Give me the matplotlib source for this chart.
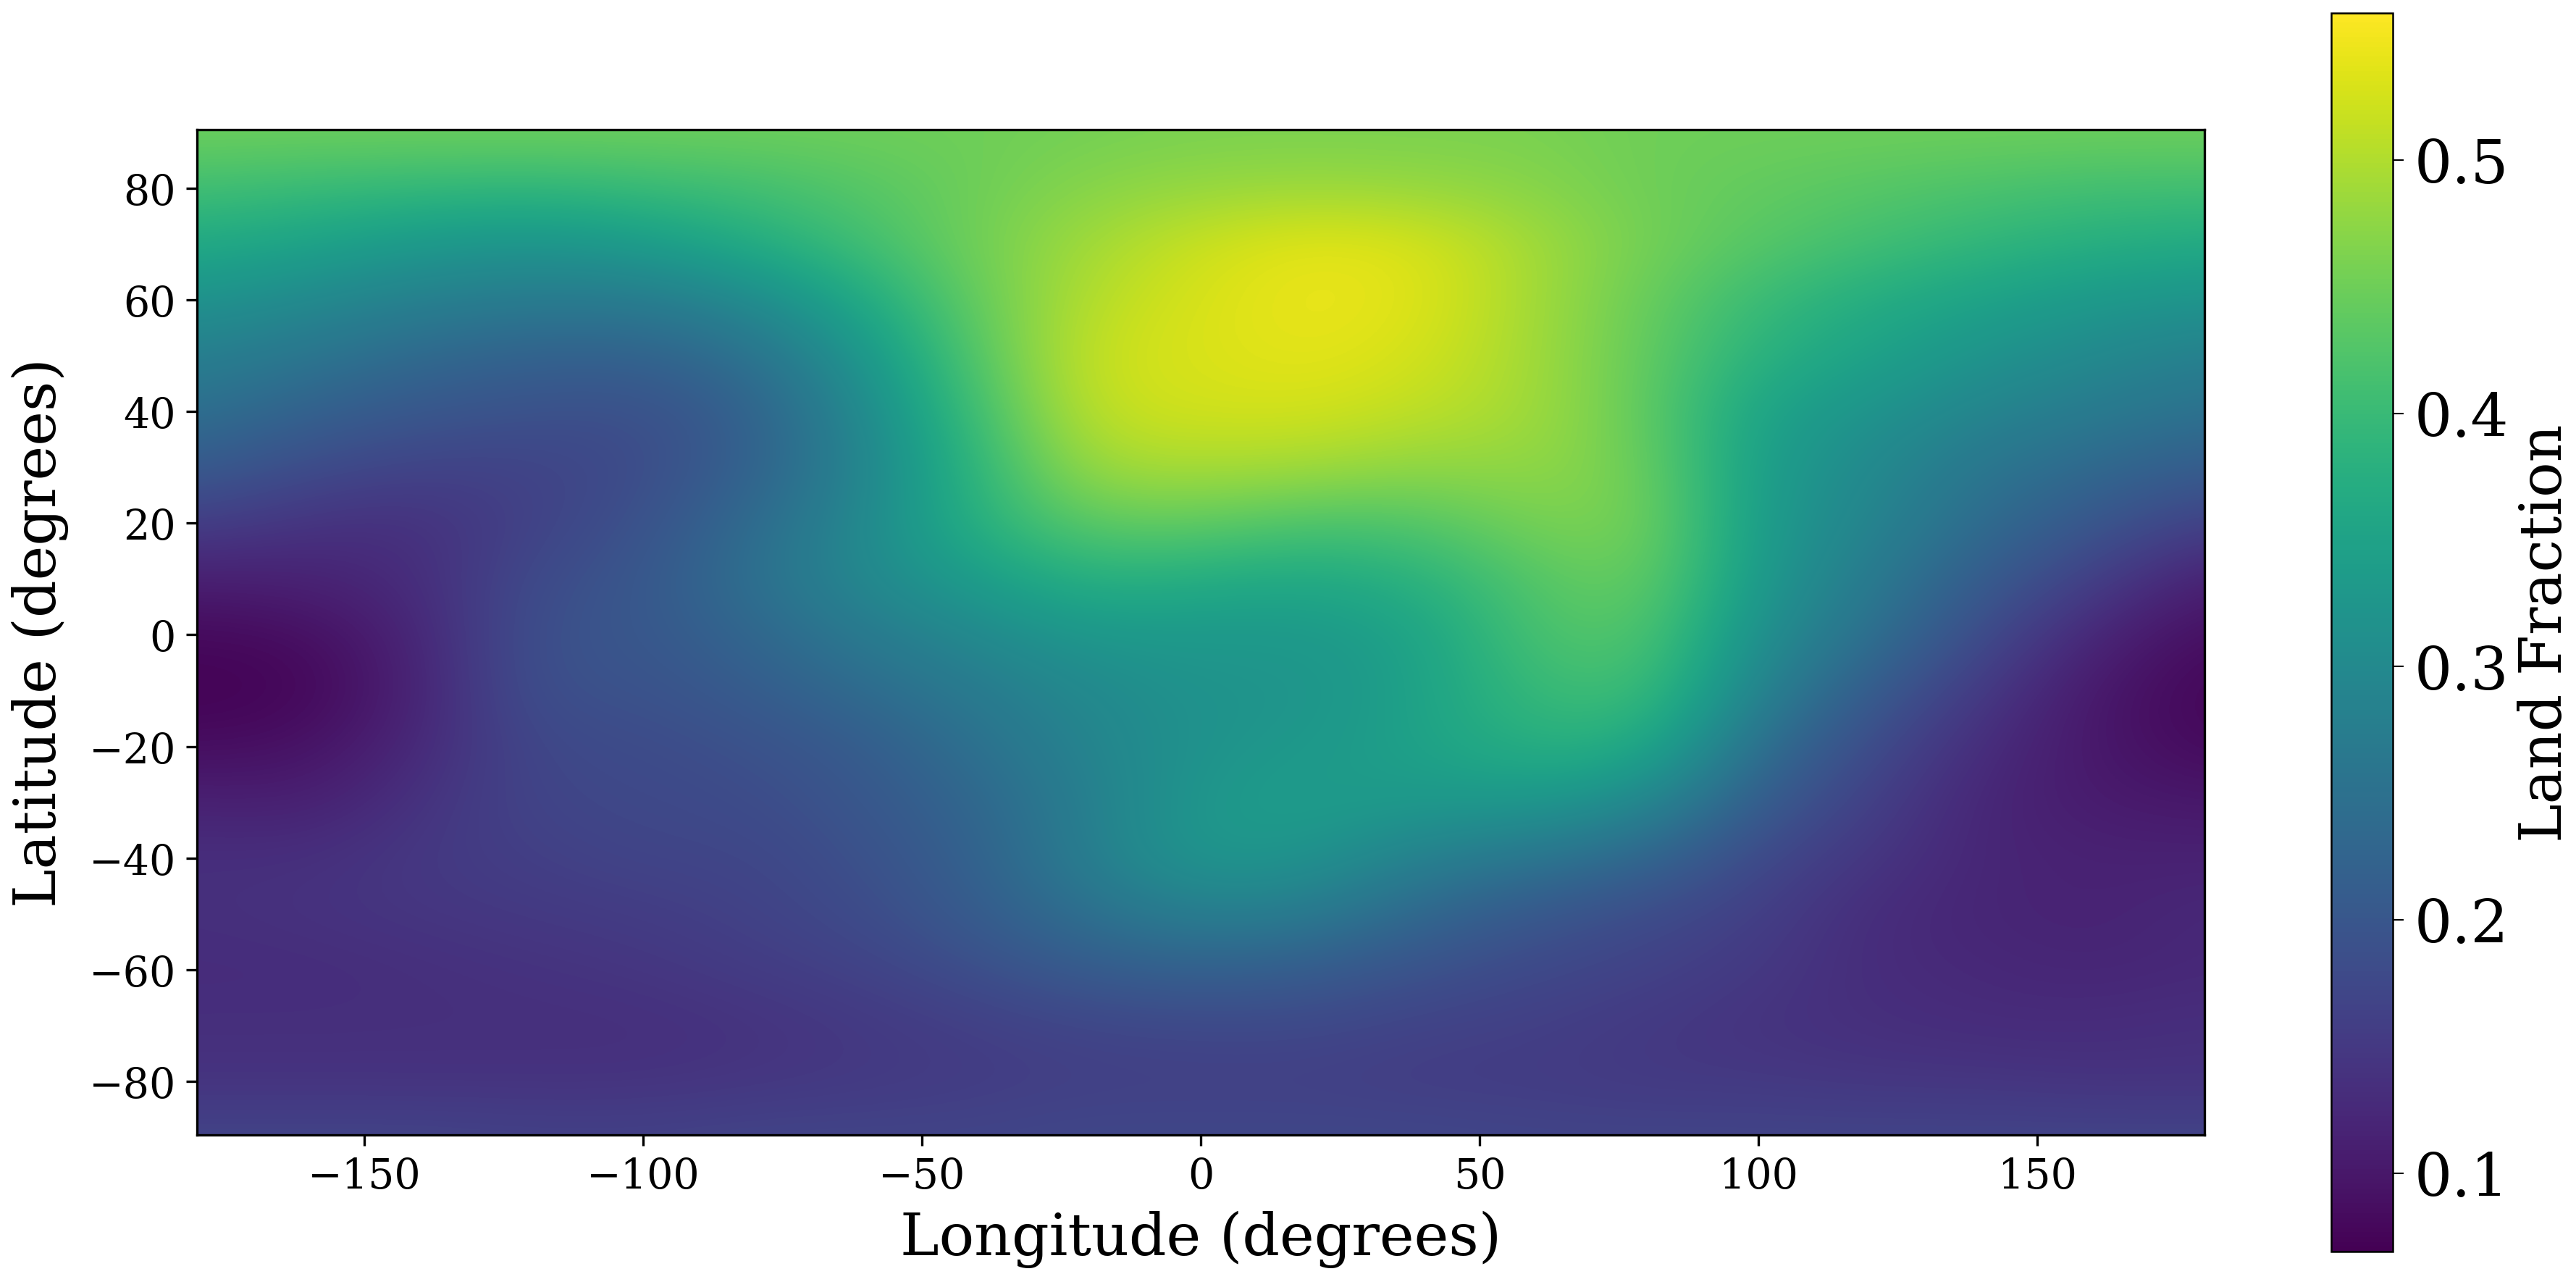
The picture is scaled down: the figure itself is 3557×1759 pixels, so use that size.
import numpy as np
import matplotlib
matplotlib.use('Agg')
import matplotlib.pyplot as plt

W, H = 3557, 1760

# 网格节点
lons = [-180, -160, -140, -120, -100, -80, -60, -40, -20, 0, 20, 40, 60, 80, 100, 120, 140, 160, 180]
lats = [90, 80, 70, 60, 50, 40, 30, 20, 10, 0, -10, -20, -30, -40, -50, -60, -70, -80, -90]

# Land fraction (north to south)
land_fraction = [
    [.45, .45, .45, .45, .45, .45, .45, .45, .455, .46, .46, .46, .46, .45, .45, .45, .45, .45, .45],
    [.41, .40, .395, .39, .40, .41, .43, .45, .47, .48, .485, .48, .47, .45, .44, .43, .42, .41, .41],
    [.365, .35, .33, .32, .335, .37, .41, .455, .49, .52, .54, .53, .49, .455, .43, .41, .39, .375, .365],
    [.32, .30, .28, .27, .27, .30, .365, .445, .505, .53, .545, .535, .49, .445, .40, .37, .35, .33, .32],
    [.28, .26, .235, .22, .22, .25, .325, .43, .52, .53, .54, .525, .49, .44, .38, .35, .32, .30, .28],
    [.25, .22, .20, .19, .185, .22, .30, .41, .515, .525, .525, .51, .49, .44, .35, .32, .29, .27, .25],
    [.21, .18, .165, .165, .18, .22, .29, .39, .49, .495, .49, .475, .48, .45, .34, .30, .26, .235, .21],
    [.16, .14, .135, .165, .19, .24, .30, .38, .44, .44, .42, .425, .46, .46, .335, .29, .24, .20, .16],
    [.11, .115, .13, .18, .20, .25, .30, .34, .38, .37, .36, .38, .43, .45, .33, .27, .21, .16, .11],
    [.08, .085, .12, .19, .20, .23, .27, .30, .33, .33, .33, .35, .42, .43, .31, .25, .18, .12, .085],
    [.07, .075, .115, .19, .19, .21, .24, .27, .30, .32, .32, .35, .40, .41, .285, .21, .15, .10, .075],
    [.085, .09, .125, .175, .18, .19, .21, .25, .29, .32, .33, .35, .38, .37, .245, .18, .13, .10, .08],
    [.115, .11, .14, .17, .175, .18, .20, .23, .28, .33, .34, .33, .33, .30, .21, .16, .12, .105, .10],
    [.135, .135, .15, .16, .17, .17, .19, .22, .28, .33, .32, .28, .26, .23, .175, .145, .12, .115, .115],
    [.135, .14, .145, .15, .155, .165, .18, .21, .25, .28, .27, .23, .20, .18, .16, .13, .12, .115, .125],
    [.13, .13, .135, .14, .145, .155, .165, .185, .21, .22, .21, .19, .175, .165, .15, .13, .125, .12, .125],
    [.135, .135, .135, .135, .135, .14, .15, .16, .17, .175, .175, .165, .16, .15, .14, .135, .13, .13, .135],
    [.14, .14, .14, .14, .14, .145, .15, .155, .16, .16, .16, .155, .155, .15, .15, .145, .145, .14, .14],
    [.17, .17, .17, .165, .165, .17, .17, .17, .175, .175, .175, .175, .17, .17, .17, .17, .17, .17, .17],
]

x_ticks = [-150, -100, -50, 0, 50, 100, 150]
y_ticks = [-80, -60, -40, -20, 0, 20, 40, 60, 80]
cbar_ticks = [0.1, 0.2, 0.3, 0.4, 0.5]
vmin, vmax = 0.069, 0.558

plt.rcParams['font.family'] = ['DejaVu Serif']


def px_axes(fig, left, top, right, bottom):
    return fig.add_axes([left / W, 1 - bottom / H, (right - left) / W, (bottom - top) / H])


fig = plt.figure(figsize=(W / 300, H / 300), dpi=300)
ax = px_axes(fig, 272, 180, 3044, 1568)
cax = px_axes(fig, 3219, 19, 3304, 1729)

im = ax.imshow(land_fraction, cmap='viridis', vmin=vmin, vmax=vmax, aspect='auto',
               interpolation='bicubic', extent=[-190, 190, -95, 95])
ax.set_xlim(-180, 180)
ax.set_ylim(-89.55, 90.45)
ax.set_xticks(x_ticks)
ax.set_yticks(y_ticks)
ax.tick_params(labelsize=13.7)
ax.set_xlabel('Longitude (degrees)', fontsize=19.4, labelpad=4.5)
ax.set_ylabel('Latitude (degrees)', fontsize=19.4, labelpad=6.5)

cbar = fig.colorbar(im, cax=cax)
cbar.set_ticks(cbar_ticks)
cbar.ax.tick_params(labelsize=19.7, width=0.5)
cbar.outline.set_linewidth(0.6)
cbar.set_label('Land Fraction', fontsize=19.4, labelpad=3)

fig.savefig('out.png', dpi=300)
plt.close(fig)
